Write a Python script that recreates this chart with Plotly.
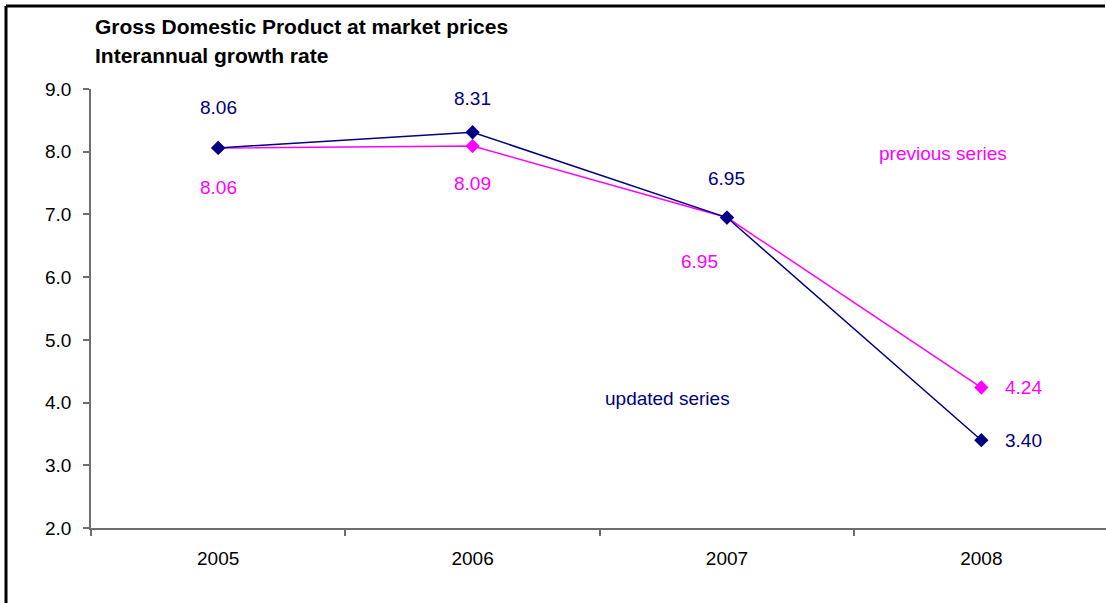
import plotly.graph_objects as go

# Data
years = ["2005", "2006", "2007", "2008"]
updated = [8.06, 8.31, 6.95, 3.40]
previous = [8.06, 8.09, 6.95, 4.24]
y_ticks = [2.0, 3.0, 4.0, 5.0, 6.0, 7.0, 8.0, 9.0]

NAVY = "#000080"
MAGENTA = "#FF00FF"
AXIS = "#6e6e6e"
FONT = "Liberation Sans, Arial, sans-serif"
FS = 19

W, H = 1106, 603
ML, MR, MT, MB = 91, 0, 89, 75
pw, ph = W - ML - MR, H - MT - MB

xi = list(range(len(years)))

fig = go.Figure()
fig.add_trace(go.Scatter(
    x=xi, y=previous, mode="lines+markers", name="previous series",
    line=dict(color=MAGENTA, width=1.5),
    marker=dict(symbol="diamond", size=11, color=MAGENTA),
    hoverinfo="skip",
))
fig.add_trace(go.Scatter(
    x=xi, y=updated, mode="lines+markers", name="updated series",
    line=dict(color=NAVY, width=1.5),
    marker=dict(symbol="diamond", size=11, color=NAVY),
    hoverinfo="skip",
))

# Value labels (pixel offsets from each point)
upd_off = [(0, 40), (0, 34), (0, 39), (42, 0)]
prev_off = [(0, -40), (0, -37), (-27, -44), (42, 0)]
annotations = []
for i, v in enumerate(updated):
    dx, dy = upd_off[i]
    annotations.append(dict(x=i, y=v, xref="x", yref="y", text=f"{v:.2f}",
                            xanchor="center", yanchor="middle",
                            showarrow=False, xshift=dx, yshift=dy,
                            font=dict(family=FONT, size=FS, color=NAVY)))
for i, v in enumerate(previous):
    dx, dy = prev_off[i]
    annotations.append(dict(x=i, y=v, xref="x", yref="y", text=f"{v:.2f}",
                            xanchor="center", yanchor="middle",
                            showarrow=False, xshift=dx, yshift=dy,
                            font=dict(family=FONT, size=FS, color=MAGENTA)))

def px_x(p):
    return (p - ML) / pw

def px_y(p):
    return (H - MB - p) / ph

# Series names
annotations.append(dict(x=px_x(943), y=px_y(153), xref="paper", yref="paper",
                        xanchor="center", yanchor="middle",
                        text="previous series", showarrow=False,
                        font=dict(family=FONT, size=FS, color=MAGENTA)))
annotations.append(dict(x=px_x(667), y=px_y(398), xref="paper", yref="paper",
                        xanchor="center", yanchor="middle",
                        text="updated series", showarrow=False,
                        font=dict(family=FONT, size=FS, color=NAVY)))

# Title lines
annotations.append(dict(x=px_x(93), y=px_y(26), xref="paper", yref="paper",
                        xanchor="left", yanchor="middle",
                        text="<b>Gross Domestic Product at market prices</b>",
                        showarrow=False, font=dict(family=FONT, size=21, color="black")))
annotations.append(dict(x=px_x(93), y=px_y(56), xref="paper", yref="paper",
                        xanchor="left", yanchor="middle",
                        text="<b>Interannual growth rate</b>",
                        showarrow=False, font=dict(family=FONT, size=21, color="black")))

# Frame around the chart (top and left edges)
frame = [
    dict(type="line", xref="paper", yref="paper",
         x0=px_x(6), x1=px_x(W - 1), y0=px_y(6), y1=px_y(6),
         line=dict(color="black", width=3), layer="above"),
    dict(type="line", xref="paper", yref="paper",
         x0=px_x(6), x1=px_x(6), y0=px_y(6), y1=px_y(H),
         line=dict(color="black", width=3), layer="above"),
]

fig.update_layout(
    width=W, height=H,
    margin=dict(l=ML, r=MR, t=MT, b=MB, pad=0),
    paper_bgcolor="white", plot_bgcolor="white",
    showlegend=False,
    annotations=annotations,
    shapes=frame,
    xaxis=dict(
        range=[-0.5, 3.49], tickvals=xi, ticktext=years, ticks="",
        showgrid=False, zeroline=False, showline=True, linecolor=AXIS, linewidth=1.5,
        tickfont=dict(family=FONT, size=FS, color="black"),
        ticklabelstandoff=12,
        minor=dict(tickvals=[-0.5, 0.5, 1.5, 2.5], ticks="outside",
                   ticklen=6, tickcolor=AXIS, tickwidth=1.5, showgrid=False),
    ),
    yaxis=dict(
        range=[2, 9], tickvals=y_ticks, tickformat=".1f",
        ticks="outside", ticklen=6, tickcolor=AXIS, tickwidth=1.5,
        showgrid=False, zeroline=False, showline=True, linecolor=AXIS, linewidth=1.5,
        tickfont=dict(family=FONT, size=FS, color="black"),
        ticklabelstandoff=8,
    ),
)

# Keep the page exactly the size of the figure (no scrollbars)
page_css = (
    "document.documentElement.style.overflow='hidden';"
    "document.body.style.margin='0';"
    "document.body.style.overflow='hidden';"
)

fig.write_html("out.html", config={"displayModeBar": False}, post_script=page_css)
